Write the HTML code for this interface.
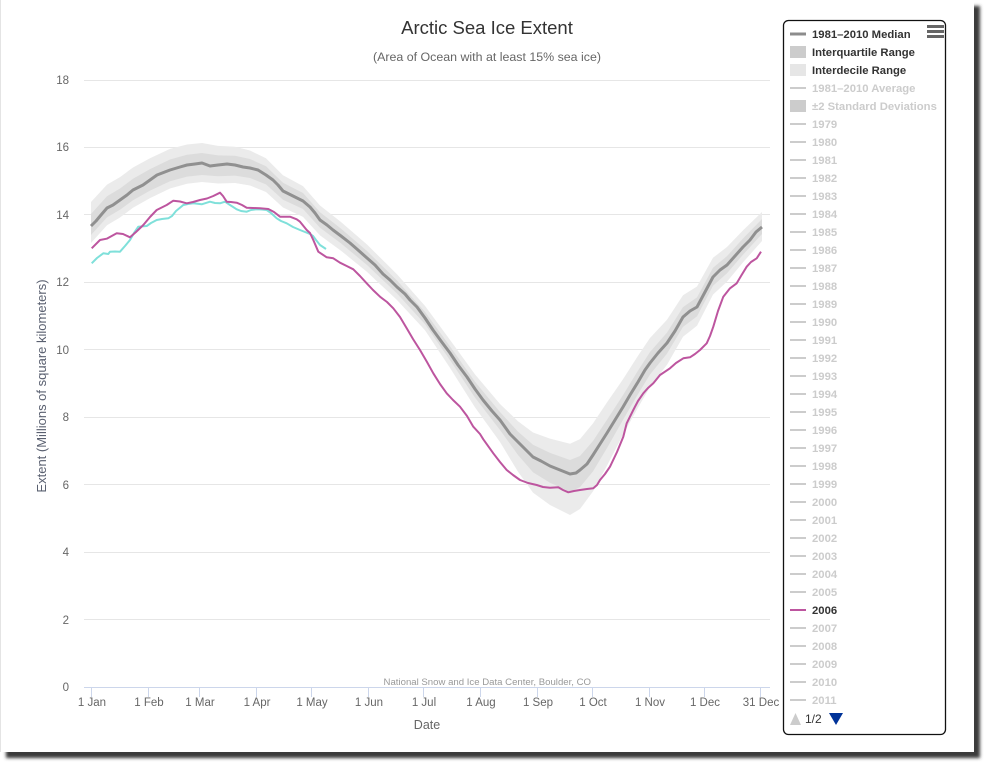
<!DOCTYPE html>
<html><head><meta charset="utf-8"><style>
html,body{margin:0;padding:0;background:#fff;width:985px;height:763px;overflow:hidden}
svg{display:block}
text{font-family:"Liberation Sans",Arial,sans-serif}
</style></head><body>
<svg width="985" height="763" viewBox="0 0 985 763" xmlns="http://www.w3.org/2000/svg">
<defs><filter id="b" x="-5%" y="-5%" width="110%" height="110%"><feGaussianBlur stdDeviation="1.6"/></filter></defs>
<rect x="6" y="6" width="974" height="752" fill="#3a3a3a" filter="url(#b)"/>
<rect x="0" y="0" width="974" height="752" fill="#fff"/>
<line x1="0.5" y1="0" x2="0.5" y2="752" stroke="#e4e4e4"/>

<text x="487" y="34" text-anchor="middle" font-size="18.5" fill="#333">Arctic Sea Ice Extent</text>
<text x="487" y="61" text-anchor="middle" font-size="12.4" fill="#666">(Area of Ocean with at least 15% sea ice)</text>

<g stroke="#e6e6e6" stroke-width="1">
<line x1="84" y1="80.5" x2="770" y2="80.5"/>
<line x1="84" y1="147.5" x2="770" y2="147.5"/>
<line x1="84" y1="214.5" x2="770" y2="214.5"/>
<line x1="84" y1="282.5" x2="770" y2="282.5"/>
<line x1="84" y1="349.5" x2="770" y2="349.5"/>
<line x1="84" y1="417.5" x2="770" y2="417.5"/>
<line x1="84" y1="484.5" x2="770" y2="484.5"/>
<line x1="84" y1="552.5" x2="770" y2="552.5"/>
<line x1="84" y1="619.5" x2="770" y2="619.5"/>
</g>
<g font-size="11.5" fill="#666" text-anchor="end">
<text x="69" y="84">18</text><text x="69" y="151">16</text><text x="69" y="219">14</text>
<text x="69" y="286">12</text><text x="69" y="354">10</text><text x="69" y="421">8</text>
<text x="69" y="489">6</text><text x="69" y="556">4</text><text x="69" y="624">2</text>
<text x="69" y="691">0</text>
</g>
<text transform="translate(46,386) rotate(-90)" text-anchor="middle" font-size="13" fill="#5a6070">Extent (Millions of square kilometers)</text>

<polygon fill="#ebebeb" points="91,202 107,184.6 120,177.1 133,167.5 150,158.2 170,148.9 187,144.5 202,143 218,145.9 235,146.8 250,150.5 266,158.3 283,175.2 303,186.1 320,205.5 341,222 367,244.5 397,274.2 425,305.9 450,339.9 475,374.4 500,404 518,421.2 533,432.5 550,438.6 570,443.7 580,439.1 593,423.4 607,402.4 623,379.3 638,355.8 650,338 667,319.7 683,295.3 697,286.5 713,257.8 727,247 743,230.4 762,212 762,241 743,262.4 727,281.6 713,294.6 697,325.8 683,336.8 667,364.7 650,387 638,407.6 623,434.6 607,465.6 593,491.4 580,509 570,515 550,505 533,492.6 518,471.8 500,442 475,407.4 450,367.9 425,330.2 397,300 367,271.9 341,250.7 320,235.4 303,216.9 283,207.5 266,192 250,185.5 235,183 218,183.5 202,182 187,183.8 170,188.5 150,198.1 133,207.8 120,217.5 107,225.3 91,243"/>
<polygon fill="#dcdcdc" points="91,214 107,196.3 120,188.5 133,178.8 150,169.1 170,159.5 187,154.8 202,153 218,155.4 235,155.7 250,159 266,166.3 283,182.7 303,193 320,212.3 341,228.6 367,251 397,280.5 425,311.9 450,346.4 475,381.7 500,412 518,431.6 533,444.8 550,452.9 570,460 580,456 593,441 607,419.7 623,395.1 638,370.6 650,352 667,332.6 683,307.1 697,297.4 713,267.8 727,256.1 743,238.5 762,219 762,234 743,254.7 727,273.3 713,285.8 697,316.4 683,326.9 667,353.6 650,374.5 638,394.1 623,419.9 607,448 593,471.4 580,487.1 570,491.7 550,482.7 533,472.3 518,455 500,430 475,397.6 450,360.1 425,324.1 397,293.5 367,265 341,243.4 320,227.7 303,209 283,199.7 266,184.4 250,178 235,175.6 218,176.3 202,175 187,176.6 170,181.2 150,190.6 133,200.2 120,209.8 107,217.4 91,235"/>

<polyline fill="none" stroke="#909090" stroke-width="3" stroke-linejoin="round" points="91,226 96,221 101,215 107,208 113,205 120,200 127,195 133,190 143,185 150,180 157,175 170,170 180,167 187,165 195,164 202,163 210,166 218,165 227,164 235,165 243,167 250,168 258,170 266,175 273,180 278,185 283,191 293,196 303,201 310,207 315,213 320,220 327,225 333,230 341,236 350,243 358,250 367,258 375,265 383,274 390,280 397,287 405,294 410,300 417,307 425,318 433,330 441,341 450,353 458,365 467,377 475,389 483,400 492,411 500,420 510,434 518,442 523,447 528,452 533,457 541,461 550,466 560,470 570,474 576,473 580,470 587,464 593,455 600,444 607,433 615,420 623,407 630,395 638,382 645,370 650,363 658,353 667,343 675,331 683,317 690,311 697,307 705,292 713,277 720,270 727,265 735,256 743,247 750,240 756,232 762,227"/>

<polyline fill="none" stroke="#7fe0da" stroke-width="2" stroke-linejoin="round" points="91.7,263.3 97,258 103.3,253.3 108.3,254 110,251.7 115,251.5 120,251.7 125,246 130,240 134,233 138.3,226.7 146.7,226 151,223 156.7,220 162,219 168.3,218.3 172,216 176,211 183.3,205 188,204 193.3,203.3 201.7,204.3 210,201.7 215,203 220,203.3 225,201.7 230,205 236.7,209.3 241,211 246.7,211.7 251,210 256.7,209.3 262,209.5 266.7,210 271,213 276.7,218.3 281,221 286.7,223.3 293,227 300,230 305,232 310,234 313,236 316,240 320,245 326,249"/>

<polyline fill="none" stroke="#bd559f" stroke-width="2" stroke-linejoin="round" points="91.7,248.3 100,240 106.7,238.7 116.7,233.3 123,234 130,237.3 136,232 143.3,225 150,217 156.7,210 166.7,205 173.3,200.7 180,201.5 186.7,203.3 193,202 200,200 207,198.5 213.3,196 220,192.7 223,196 226.7,201.7 231,202 236.7,202.7 242,205 246.7,207.7 253,208 260,208.3 268.3,209 274,212 280,216.7 290,216.7 296.7,219.3 300,221.7 306.7,230 310,233 313.3,240 318.3,251.7 326.7,257.3 333.3,258.3 340,262.7 346.7,266 353.3,269.3 360,276 366.7,283.3 373,290 380,296.7 387,302 393.3,308.3 400,317 406.7,328.3 413,339 420,350 427,362 433.3,373.3 440,384 446.7,393.3 453,400 460,406.7 467,416 473.3,426.7 480,434 483.3,439.3 493.3,453.3 500,462 506.7,470 513,475 520,480 528,483 536.7,485 543,487 550,487.7 558.3,487.3 563,490 568.3,492.3 574,491 580,490 587,489 593.3,488.3 597,485 600,480 605,474 610,466.7 617,452 623.3,436.7 626.7,423.3 633.3,410 638,401 643.3,393.3 648,388 653.3,383.3 660,375 670,368.3 676,363 683.3,358.3 690,357.3 695,354 700,350 706.7,343.3 710,336 713.3,326.7 718,311 723.3,296.7 730,288.3 736.7,283.3 741,276 746.7,266.7 751,262 756.7,258.3 761,251.7"/>

<line x1="84" y1="687.5" x2="770" y2="687.5" stroke="#ccd6eb"/>
<g stroke="#ccd6eb">
<line x1="91.5" y1="687" x2="91.5" y2="697"/><line x1="148.5" y1="687" x2="148.5" y2="697"/>
<line x1="199.5" y1="687" x2="199.5" y2="697"/><line x1="256.5" y1="687" x2="256.5" y2="697"/>
<line x1="311.5" y1="687" x2="311.5" y2="697"/><line x1="368.5" y1="687" x2="368.5" y2="697"/>
<line x1="423.5" y1="687" x2="423.5" y2="697"/><line x1="480.5" y1="687" x2="480.5" y2="697"/>
<line x1="537.5" y1="687" x2="537.5" y2="697"/><line x1="592.5" y1="687" x2="592.5" y2="697"/>
<line x1="649.5" y1="687" x2="649.5" y2="697"/><line x1="704.5" y1="687" x2="704.5" y2="697"/>
<line x1="760.5" y1="687" x2="760.5" y2="697"/>
</g>
<g font-size="11.5" fill="#666" text-anchor="middle">
<text x="92" y="706">1 Jan</text><text x="149" y="706">1 Feb</text><text x="200" y="706">1 Mar</text>
<text x="257" y="706">1 Apr</text><text x="312" y="706">1 May</text><text x="369" y="706">1 Jun</text>
<text x="424" y="706">1 Jul</text><text x="481" y="706">1 Aug</text><text x="538" y="706">1 Sep</text>
<text x="593" y="706">1 Oct</text><text x="650" y="706">1 Nov</text><text x="705" y="706">1 Dec</text>
<text x="761" y="706">31 Dec</text>
</g>
<text x="427" y="729" text-anchor="middle" font-size="12.5" fill="#666">Date</text>
<text x="591" y="685" text-anchor="end" font-size="9.6" fill="#999">National Snow and Ice Data Center, Boulder, CO</text>

<rect x="783.5" y="20.5" width="162" height="714" rx="5" ry="5" fill="#fff" stroke="#111" stroke-width="1.3"/>
<g fill="#666"><rect x="927" y="25" width="17" height="3"/><rect x="927" y="30" width="17" height="3"/><rect x="927" y="35" width="17" height="3"/></g>

<g font-size="11.3" font-weight="bold">
<line x1="790" y1="34" x2="806" y2="34" stroke="#8c8c8c" stroke-width="3"/>
<text x="812" y="38" fill="#333">1981–2010 Median</text>
<rect x="790" y="46" width="16" height="12" fill="#cccccc"/>
<text x="812" y="56" fill="#333">Interquartile Range</text>
<rect x="790" y="64" width="16" height="12" fill="#e6e6e6"/>
<text x="812" y="74" fill="#333">Interdecile Range</text>
<line x1="790" y1="88" x2="806" y2="88" stroke="#ccc" stroke-width="2"/>
<text x="812" y="92" fill="#ccc">1981–2010 Average</text>
<rect x="790" y="100" width="16" height="12" fill="#ccc"/>
<text x="812" y="110" fill="#ccc">±2 Standard Deviations</text>
<g stroke="#ccc" stroke-width="2">
<line x1="790" y1="124" x2="806" y2="124"/><line x1="790" y1="142" x2="806" y2="142"/>
<line x1="790" y1="160" x2="806" y2="160"/><line x1="790" y1="178" x2="806" y2="178"/>
<line x1="790" y1="196" x2="806" y2="196"/><line x1="790" y1="214" x2="806" y2="214"/>
<line x1="790" y1="232" x2="806" y2="232"/><line x1="790" y1="250" x2="806" y2="250"/>
<line x1="790" y1="268" x2="806" y2="268"/><line x1="790" y1="286" x2="806" y2="286"/>
<line x1="790" y1="304" x2="806" y2="304"/><line x1="790" y1="322" x2="806" y2="322"/>
<line x1="790" y1="340" x2="806" y2="340"/><line x1="790" y1="358" x2="806" y2="358"/>
<line x1="790" y1="376" x2="806" y2="376"/><line x1="790" y1="394" x2="806" y2="394"/>
<line x1="790" y1="412" x2="806" y2="412"/><line x1="790" y1="430" x2="806" y2="430"/>
<line x1="790" y1="448" x2="806" y2="448"/><line x1="790" y1="466" x2="806" y2="466"/>
<line x1="790" y1="484" x2="806" y2="484"/><line x1="790" y1="502" x2="806" y2="502"/>
<line x1="790" y1="520" x2="806" y2="520"/><line x1="790" y1="538" x2="806" y2="538"/>
<line x1="790" y1="556" x2="806" y2="556"/><line x1="790" y1="574" x2="806" y2="574"/>
<line x1="790" y1="592" x2="806" y2="592"/>
<line x1="790" y1="628" x2="806" y2="628"/><line x1="790" y1="646" x2="806" y2="646"/>
<line x1="790" y1="664" x2="806" y2="664"/><line x1="790" y1="682" x2="806" y2="682"/>
<line x1="790" y1="700" x2="806" y2="700"/>
</g>
<line x1="790" y1="610" x2="806" y2="610" stroke="#bd559f" stroke-width="2"/>
<g fill="#ccc">
<text x="812" y="128">1979</text><text x="812" y="146">1980</text><text x="812" y="164">1981</text>
<text x="812" y="182">1982</text><text x="812" y="200">1983</text><text x="812" y="218">1984</text>
<text x="812" y="236">1985</text><text x="812" y="254">1986</text><text x="812" y="272">1987</text>
<text x="812" y="290">1988</text><text x="812" y="308">1989</text><text x="812" y="326">1990</text>
<text x="812" y="344">1991</text><text x="812" y="362">1992</text><text x="812" y="380">1993</text>
<text x="812" y="398">1994</text><text x="812" y="416">1995</text><text x="812" y="434">1996</text>
<text x="812" y="452">1997</text><text x="812" y="470">1998</text><text x="812" y="488">1999</text>
<text x="812" y="506">2000</text><text x="812" y="524">2001</text><text x="812" y="542">2002</text>
<text x="812" y="560">2003</text><text x="812" y="578">2004</text><text x="812" y="596">2005</text>
<text x="812" y="632">2007</text><text x="812" y="650">2008</text><text x="812" y="668">2009</text>
<text x="812" y="686">2010</text><text x="812" y="704">2011</text>
</g>
<text x="812" y="614" fill="#333">2006</text>
</g>
<polygon points="790,725 801,725 795.5,713" fill="#ccc"/>
<text x="805" y="723" font-size="12" fill="#333">1/2</text>
<polygon points="829,713 843,713 836,725" fill="#003399"/>
</svg>
</body></html>
